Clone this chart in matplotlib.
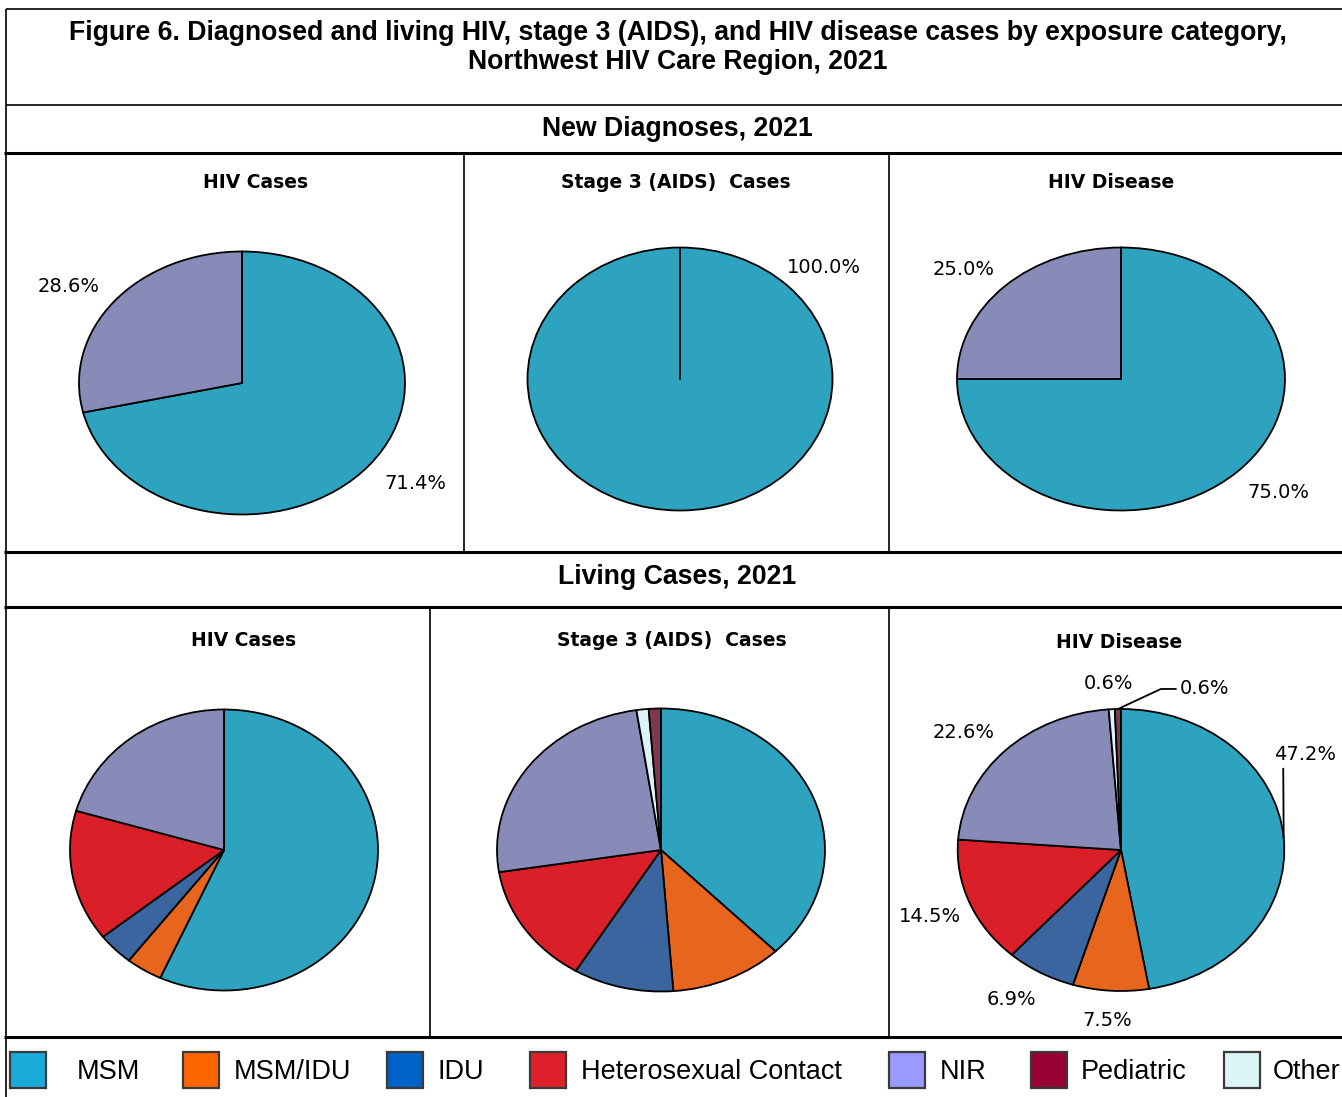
import matplotlib
matplotlib.use('Agg')
import matplotlib.pyplot as plt
from matplotlib.lines import Line2D
from matplotlib.patches import Rectangle
import numpy as np

# ---------------- data ----------------
categories = ['MSM', 'MSM/IDU', 'IDU', 'Heterosexual Contact', 'NIR', 'Pediatric', 'Other']
# clockwise drawing order of the slices (from 12 o'clock)
pie_order = ['MSM', 'MSM/IDU', 'IDU', 'Heterosexual Contact', 'NIR', 'Other', 'Pediatric']

new_hiv = [71.4, 0, 0, 0, 28.6, 0, 0]
new_aids = [100.0, 0, 0, 0, 0, 0, 0]
new_disease = [75.0, 0, 0, 0, 25.0, 0, 0]
living_hiv = [56.8, 3.8, 3.8, 15.1, 20.5, 0, 0]
living_aids = [37.7, 11.1, 9.9, 13.8, 25.1, 1.2, 1.2]
living_disease = [47.2, 7.5, 6.9, 14.5, 22.6, 0.6, 0.6]

panel_titles = ['HIV Cases', 'Stage 3 (AIDS)  Cases', 'HIV Disease']
section_titles = ['New Diagnoses, 2021', 'Living Cases, 2021']
fig_title_lines = ['Figure 6. Diagnosed and living HIV, stage 3 (AIDS), and HIV disease cases by exposure category,',
                   'Northwest HIV Care Region, 2021']

# ---------------- styles ----------------
pie_colors = {'MSM': '#2DA3BF', 'MSM/IDU': '#E8651E', 'IDU': '#3A659E',
              'Heterosexual Contact': '#DA1F29', 'NIR': '#888BB7',
              'Pediatric': '#7A3B4E', 'Other': '#DDF3F8'}
legend_colors = {'MSM': '#1AAAD9', 'MSM/IDU': '#FF6600', 'IDU': '#0062C6',
                 'Heterosexual Contact': '#DC1F28', 'NIR': '#9999FF',
                 'Pediatric': '#990033', 'Other': '#DDF4F7'}

W, H = 1342, 1097
fig = plt.figure(figsize=(W / 100, H / 100), dpi=100)
fig.patch.set_facecolor('white')


def fx(x):
    return x / W


def fy(y):
    return 1 - y / H


def hline(y, x0, x1, lw):
    fig.add_artist(Line2D([fx(x0), fx(x1)], [fy(y), fy(y)], color='black', lw=lw,
                          transform=fig.transFigure, solid_capstyle='butt'))


def vline(x, y0, y1, lw):
    fig.add_artist(Line2D([fx(x), fx(x)], [fy(y0), fy(y1)], color='black', lw=lw,
                          transform=fig.transFigure, solid_capstyle='butt'))


# ---------------- frame lines ----------------
thin, thick = 1.2, 2.2
hline(9, 6, W, thin)
vline(6, 9, 1097, thin)
hline(105, 6, W, thin)
hline(153, 4, W, thick)
hline(552, 4, W, thick)
hline(607, 4, W, thick)
hline(1037, 4, W, thick)
vline(464, 153, 552, thin)
vline(889, 153, 552, thin)
vline(430, 607, 1037, thin)
vline(889, 607, 1037, thin)

# ---------------- texts ----------------
title_font = ['Liberation Sans', 'DejaVu Sans']
for line, y in zip(fig_title_lines, [33, 62]):
    fig.text(fx(678), fy(y), line, ha='center', va='center', fontsize=19.2,
             fontweight='bold', family=title_font)
fig.text(fx(677), fy(129), section_titles[0], ha='center', va='center', fontsize=19.2,
         fontweight='bold', family=title_font)
fig.text(fx(677), fy(577), section_titles[1], ha='center', va='center', fontsize=19.2,
         fontweight='bold', family=title_font)

top_title_pos = [(256, 182), (676, 182), (1111, 182)]
bot_title_pos = [(244, 640), (672, 640), (1119, 642)]
for t, (x, y) in zip(panel_titles, top_title_pos):
    fig.text(fx(x), fy(y), t, ha='center', va='center', fontsize=13.5, fontweight='bold',
             family='DejaVu Sans')
for t, (x, y) in zip(panel_titles, bot_title_pos):
    fig.text(fx(x), fy(y), t, ha='center', va='center', fontsize=13.5, fontweight='bold',
             family='DejaVu Sans')

# ---------------- pies ----------------
# (cx, cy, rx, ry) in pixels
pie_geoms = [(242, 383, 163, 131.5), (680, 379, 152.5, 131.5), (1121, 379, 164, 131.5),
             (224, 850, 154, 140.5), (661, 850, 164, 141.5), (1121, 850, 163.3, 141)]
pie_values = [new_hiv, new_aids, new_disease, living_hiv, living_aids, living_disease]
show_labels = [True, True, True, False, False, True]
label_overrides = {
    1: {'MSM': {'angle': 46}},
    5: {'MSM': {'pos': (1.13, 0.674), 'relpos': (0.14, 0.0), 'conn': 'arc3'},
        'Heterosexual Contact': {'scale': (1.26, 1.22)},
        'Pediatric': {'pos': (0.514, 1.142), 'relpos': (0.0, 0.5),
                      'conn': 'angle,angleA=0,angleB=25,rad=0'}},
}
lab_rx, lab_ry = 1.36, 1.2

for i, (geom, vals) in enumerate(zip(pie_geoms, pie_values)):
    cx, cy, rx, ry = geom
    ax = fig.add_axes([fx(cx - rx), fy(cy + ry), 2 * rx / W, 2 * ry / H])
    d = dict(zip(categories, vals))
    names = [n for n in pie_order if d[n] > 0]
    v = [d[n] for n in names]
    wedges, _ = ax.pie(v, colors=[pie_colors[n] for n in names], startangle=90,
                       counterclock=False, radius=1,
                       wedgeprops=dict(edgecolor='black', linewidth=1.3))
    if len(wedges) == 1:
        # a full-circle slice still shows its radial edge
        a = np.deg2rad(wedges[0].theta2)
        ax.plot([0, np.cos(a)], [0, np.sin(a)], color='black', lw=1.3)
    ax.set_aspect('auto')
    ax.set_xlim(-1, 1)
    ax.set_ylim(-1, 1)
    ax.axis('off')
    if not show_labels[i]:
        continue
    ov = label_overrides.get(i, {})
    for w, n, val in zip(wedges, names, v):
        txt = f'{val:.1f}%'
        mid = np.deg2rad((w.theta1 + w.theta2) / 2)
        o = ov.get(n, {})
        if 'angle' in o:
            mid = np.deg2rad(o['angle'])
        if 'pos' in o:
            ax.annotate(txt, xy=(np.cos(mid), np.sin(mid)), xytext=o['pos'],
                        ha='center', va='center', fontsize=14, family='DejaVu Sans',
                        annotation_clip=False,
                        arrowprops=dict(arrowstyle='-', color='black', lw=1.3,
                                        relpos=o['relpos'], connectionstyle=o['conn'],
                                        shrinkA=1, shrinkB=0))
        else:
            sx, sy = o.get('scale', (lab_rx, lab_ry))
            ax.text(sx * np.cos(mid), sy * np.sin(mid), txt, ha='center',
                    va='center_baseline', fontsize=14, family='DejaVu Sans', clip_on=False)

# ---------------- legend ----------------
leg_box_x = [10, 183, 387, 530, 889, 1031, 1224]
leg_text_x = [77, 234, 438, 581, 940, 1081, 1273]
box_w, box_top, box_bot = 36, 1052, 1088
for n, bx, tx in zip(categories, leg_box_x, leg_text_x):
    fig.add_artist(Rectangle((fx(bx), fy(box_bot)), box_w / W, (box_bot - box_top) / H,
                             facecolor=legend_colors[n], edgecolor='#3a3a3a', lw=1.6,
                             transform=fig.transFigure))
    fig.text(fx(tx), fy(1072), n, ha='left', va='center', fontsize=19.5,
             family=['Liberation Sans', 'DejaVu Sans'])

fig.savefig('out.png', dpi=100, facecolor='white')
